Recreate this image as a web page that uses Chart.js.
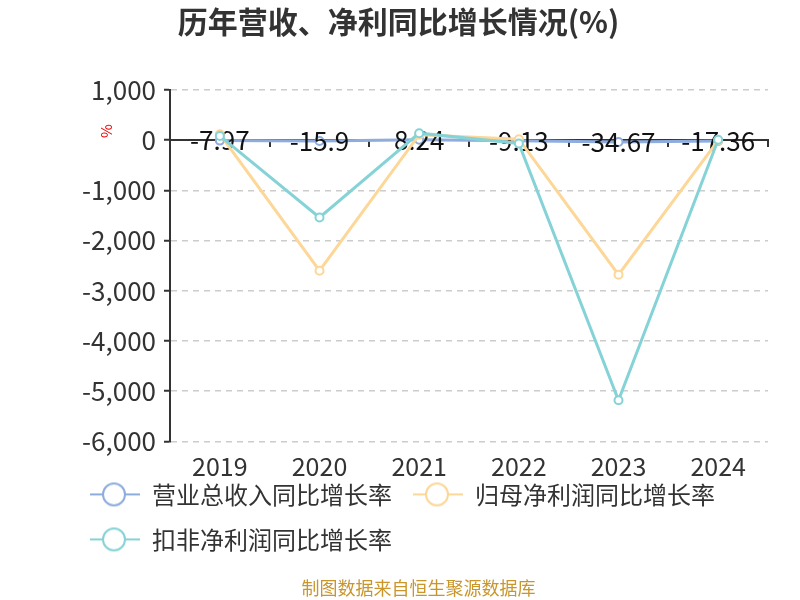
<!DOCTYPE html>
<html><head><meta charset="utf-8">
<script src="https://cdn.jsdelivr.net/npm/chart.js@4.4.0/dist/chart.umd.min.js"></script>
<style>html,body{margin:0;padding:0;background:#fff}#wrap{width:800px;height:600px;position:relative}</style>
</head><body><div id="wrap"><canvas id="c" width="800" height="600"></canvas></div>
<script>
const years = ['2019', '2020', '2021', '2022', '2023', '2024'];
const revenueGrowth = [-7.97, -15.9, 8.24, -9.13, -34.67, -17.36];
const netProfitGrowth = [120, -2600, 110, 20, -2680, -5];
const deductedProfitGrowth = [85, -1540, 140, -65, -5180, 10];
const yMin = -6000, yMax = 1000, yStep = 1000;
const seriesNames = ['营业总收入同比增长率', '归母净利润同比增长率', '扣非净利润同比增长率'];
const seriesColors = ['#8eacde', '#fdd797', '#85d3d6'];

const FONT = "'Noto Sans CJK SC', 'Noto Sans', sans-serif";
const LEFT_PAD = 69;

class NoClipCategoryScale extends Chart.CategoryScale {
  _computeLabelArea() { return undefined; }
}
NoClipCategoryScale.id = 'categoryNoClip';
NoClipCategoryScale.defaults = Chart.CategoryScale.defaults;
Chart.register(NoClipCategoryScale);

function makeIcon(color) {
  const c = document.createElement('canvas');
  c.width = 50; c.height = 26;
  const g = c.getContext('2d');
  g.strokeStyle = color; g.lineWidth = 2;
  g.beginPath(); g.moveTo(0, 13); g.lineTo(50, 13); g.stroke();
  g.beginPath(); g.arc(24, 13, 11, 0, Math.PI * 2);
  g.fillStyle = '#fff'; g.fill(); g.stroke();
  return c;
}
const icons = seriesColors.map(makeIcon);

const labelPlugin = {
  id: 'revLabels',
  afterDatasetDraw(chart, args) {
    if (args.index !== 0) return;
    const ctx = chart.ctx;
    ctx.save();
    ctx.font = '26px ' + FONT;
    ctx.fillStyle = '#111';
    ctx.textAlign = 'center';
    ctx.textBaseline = 'middle';
    args.meta.data.forEach((pt, i) => {
      ctx.fillText(String(revenueGrowth[i]), pt.x, pt.y);
    });
    ctx.restore();
  }
};

const unitPlugin = {
  id: 'unitLabel',
  afterLayout(chart) {
    if (chart.titleBlock) { chart.titleBlock.left = 0; chart.titleBlock.right = 797; }
  },
  afterDraw(chart) {
    const ctx = chart.ctx;
    const y = chart.scales.y.getPixelForValue(0) - 9;
    ctx.save();
    ctx.translate(106, y);
    ctx.rotate(-Math.PI / 2);
    ctx.font = '15px ' + FONT;
    ctx.fillStyle = '#e00';
    ctx.textAlign = 'center';
    ctx.textBaseline = 'middle';
    ctx.fillText('%', 0, 0);
    ctx.restore();
  }
};

const datasets = [revenueGrowth, netProfitGrowth, deductedProfitGrowth].map((d, i) => ({
  label: seriesNames[i],
  data: d,
  borderColor: seriesColors[i],
  backgroundColor: '#fff',
  borderWidth: 3,
  pointRadius: 4,
  pointBorderWidth: 2,
  pointBackgroundColor: '#fff',
  pointBorderColor: seriesColors[i],
  tension: 0,
  order: 3 - i
}));

new Chart(document.getElementById('c'), {
  type: 'line',
  data: { labels: years, datasets },
  plugins: [labelPlugin, unitPlugin],
  options: {
    responsive: false,
    animation: false,
    layout: { padding: { left: LEFT_PAD, right: 32, top: 0, bottom: 5 } },
    scales: {
      x: {
        type: 'categoryNoClip',
        position: 'bottom',
        offset: true,
        grid: { display: false, drawTicks: false },
        border: { display: false },
        ticks: { font: { family: FONT, size: 25 }, color: '#333', padding: 10, maxRotation: 0 },
        afterFit(s) { s.height = 20; }
      },
      x2: {
        type: 'category',
        labels: years,
        position: { y: 0 },
        offset: true,
        grid: { offset: true, drawOnChartArea: false, drawTicks: true, tickLength: 6, color: '#333', lineWidth: 2 },
        border: { display: true, color: '#333', width: 2 },
        ticks: { display: false }
      },
      y: {
        min: yMin, max: yMax,
        ticks: {
          stepSize: yStep,
          font: { family: FONT, size: 26 },
          color: '#333',
          padding: 8,
          callback: v => Number(v).toLocaleString('en-US')
        },
        grid: { color: '#cccccc', lineWidth: 1.5, tickLength: 6, tickColor: '#333', tickWidth: 2, tickBorderDash: [] },
        border: { display: true, color: '#333', width: 2, dash: [6, 5] },
        afterFit(s) { s.width = 170 - LEFT_PAD; }
      }
    },
    plugins: {
      title: {
        display: true,
        text: '历年营收、净利同比增长情况(%)',
        font: { family: FONT, size: 30, weight: 'bold', lineHeight: 1.2 },
        color: '#333',
        padding: { top: 4, bottom: 50 }
      },
      subtitle: {
        display: true,
        position: 'bottom',
        text: '制图数据来自恒生聚源数据库',
        font: { family: FONT, size: 18 },
        color: '#c9962c',
        padding: { top: 16, bottom: -4 }
      },
      legend: {
        position: 'bottom',
        align: 'start',
        labels: {
          font: { family: FONT, size: 24 },
          color: '#333',
          usePointStyle: true,
          pointStyleWidth: 50,
          padding: 21,
          generateLabels(chart) {
            return chart.data.datasets.map((ds, i) => ({
              text: ds.label,
              datasetIndex: i,
              pointStyle: icons[i],
              fillStyle: '#fff',
              strokeStyle: seriesColors[i],
              lineWidth: 0,
              fontColor: '#333',
              hidden: false
            }));
          }
        }
      },
      tooltip: { enabled: false }
    }
  }
});
</script>
</body></html>
